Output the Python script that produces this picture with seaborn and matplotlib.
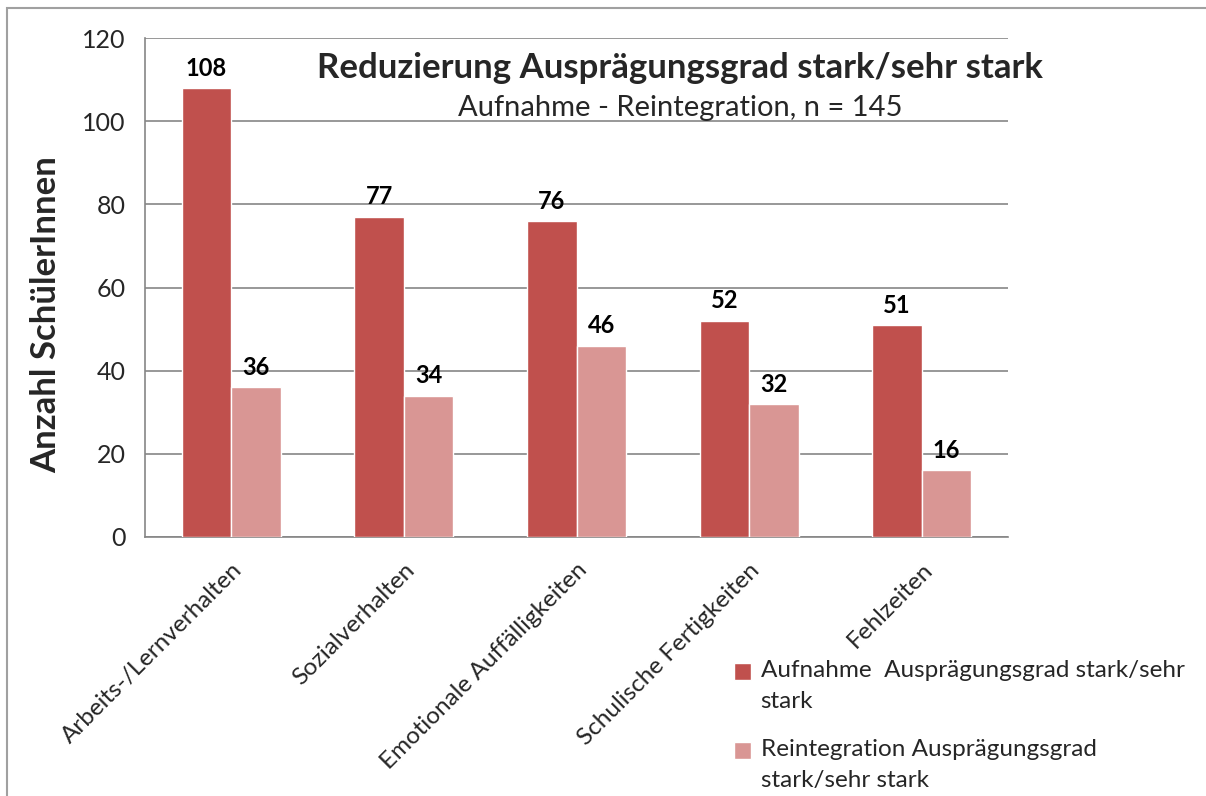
import matplotlib
matplotlib.use("Agg")
import matplotlib.pyplot as plt
import seaborn as sns
import pandas as pd
from matplotlib.patches import Rectangle
from matplotlib.legend_handler import HandlerPatch

categories = ["Arbeits-/Lernverhalten", "Sozialverhalten", "Emotionale Auffälligkeiten",
              "Schulische Fertigkeiten", "Fehlzeiten"]
aufnahme = [108, 77, 76, 52, 51]
reintegration = [36, 34, 46, 32, 16]
series_names = ["Aufnahme  Ausprägungsgrad stark/sehr\nstark",
                "Reintegration Ausprägungsgrad\nstark/sehr stark"]
yticks = [0, 20, 40, 60, 80, 100, 120]
title = "Reduzierung Ausprägungsgrad stark/sehr stark"
subtitle = "Aufnahme - Reintegration, n = 145"
ylabel = "Anzahl SchülerInnen"

df = pd.DataFrame({
    "Kategorie": categories * 2,
    "Wert": aufnahme + reintegration,
    "Serie": [series_names[0]] * len(categories) + [series_names[1]] * len(categories),
})

sns.set_style("white")
plt.rcParams['font.family'] = ['Lato', 'DejaVu Sans']

fig = plt.figure(figsize=(12.06, 7.96), dpi=100)
ax = fig.add_axes([145/1206, 1-537/796, (1008-145)/1206, (537-38)/796])

palette = ["#C0504D", "#D99694"]
sns.barplot(data=df, x="Kategorie", y="Wert", hue="Serie", palette=palette,
            width=0.574, gap=0, saturation=1, ax=ax, legend=True, zorder=3)

ax.set_ylim(0, 120)
ax.set_xlim(-0.5, len(categories) - 0.5)
ax.set_yticks(yticks)
ax.set_yticklabels([str(t) for t in yticks], fontsize=18)
ax.yaxis.grid(True, color="#868686", linewidth=1.2, zorder=0)
ax.set_axisbelow(True)

# x ticks at category boundaries
ax.set_xticks([i - 0.5 for i in range(len(categories) + 1)], minor=False)
ax.set_xticklabels([])
ax.set_xticks(range(len(categories)), minor=True)
ax.set_xticklabels(categories, minor=True, rotation=45, ha="right",
                   rotation_mode="anchor", fontsize=17.5)
ax.tick_params(axis="x", which="major", direction="out", length=8, width=1.2, color="#868686")
ax.tick_params(axis="x", which="minor", length=0, pad=16)
ax.tick_params(axis="y", direction="out", length=8, width=1.2, color="#868686", pad=6)

for s in ["top", "right"]:
    ax.spines[s].set_visible(False)
for s in ["left", "bottom"]:
    ax.spines[s].set_color("#868686")
    ax.spines[s].set_linewidth(1.2)

ax.set_xlabel("")
ax.set_ylabel(ylabel, fontsize=25, fontweight="bold")
ax.yaxis.set_label_coords((62-145)/863, (537-315)/499)

for cont in ax.containers:
    for bar in cont:
        h = bar.get_height()
        ax.annotate(f"{int(round(h))}", (bar.get_x() + bar.get_width()/2, h),
                    xytext=(0, 6), textcoords="offset points", ha="center", va="bottom",
                    fontsize=17, fontweight="bold", color="black")

ax.text(0.62, 0.94, title, transform=ax.transAxes, ha="center", va="center",
        fontsize=25, fontweight="bold")
ax.text(0.62, 0.86, subtitle, transform=ax.transAxes, ha="center", va="center",
        fontsize=21)


def top_square(legend, orig_handle, xdescent, ydescent, width, height, fontsize):
    shift = 0.6 * fontsize
    return Rectangle((-xdescent, -ydescent + shift), width, height)


handles, labels = ax.get_legend_handles_labels()
leg = ax.legend(handles, labels, loc="upper left", bbox_to_anchor=(712/1206, 1-638/796),
                bbox_transform=fig.transFigure, frameon=False, fontsize=17.5,
                handlelength=0.7, handleheight=0.7, handletextpad=0.4, labelspacing=1.1,
                handler_map={type(handles[0]): HandlerPatch(patch_func=top_square)})
for t in leg.get_texts():
    t.set_linespacing(1.6)

fig.patches.append(Rectangle((7/1206, -0.1), 1.2, 1.1 - 8/796, transform=fig.transFigure,
                             fill=False, edgecolor="#A0A0A0", linewidth=1.5))

fig.savefig("out.png", dpi=100)
